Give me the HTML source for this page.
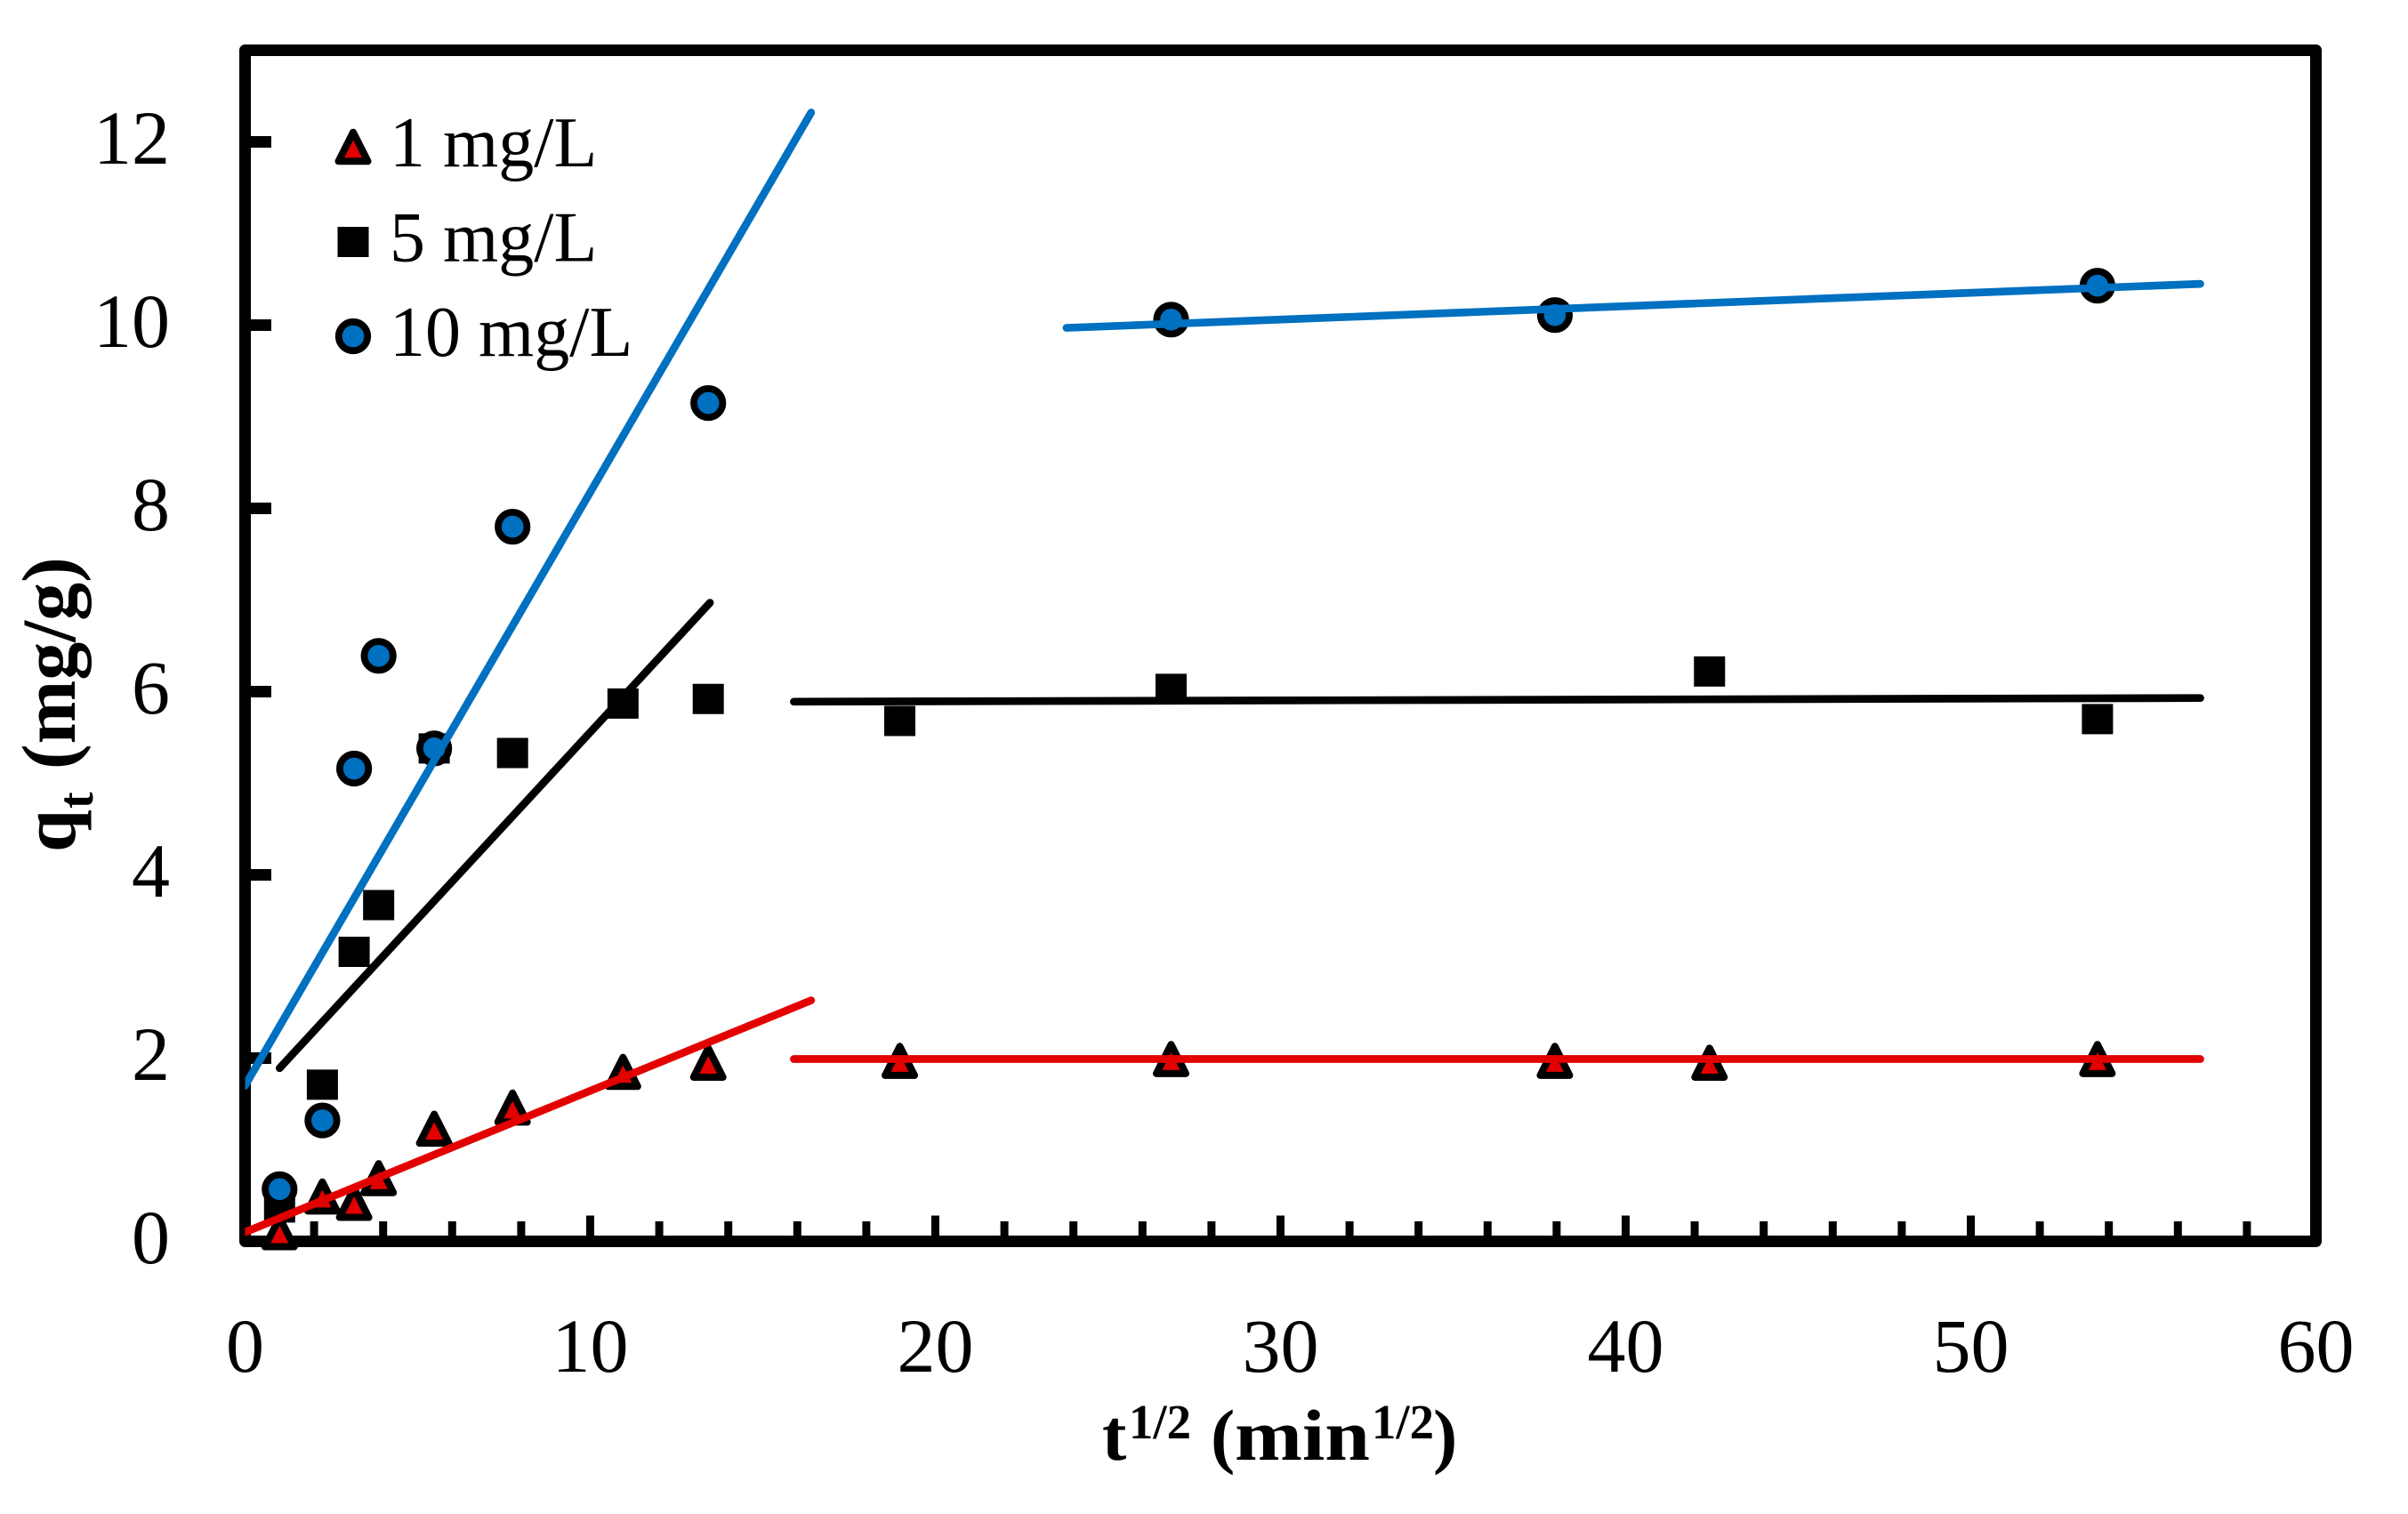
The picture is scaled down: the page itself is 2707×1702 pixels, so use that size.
<!DOCTYPE html>
<html lang="en">
<head>
<meta charset="utf-8">
<title>Intraparticle diffusion plot</title>
<style>
html,body{margin:0;padding:0;background:#fff;}
svg{display:block;}
text{font-family:"Liberation Serif",serif;fill:#000;}
</style>
</head>
<body>
<svg id="chart" xmlns="http://www.w3.org/2000/svg" width="2707" height="1702" viewBox="0 0 2707 1702">
  <rect x="0" y="0" width="2707" height="1702" fill="#fff"/>
  <defs><clipPath id="plot-clip"><rect x="275.5" y="0" width="2431" height="1702"/></clipPath></defs>
  <g id="axes"></g>
  <g id="marks"></g>
  <g id="fits" clip-path="url(#plot-clip)"></g>
  <g id="legend"></g>
  <text font-weight="bold" font-size="82">
    <tspan x="1239" y="1641">t</tspan><tspan x="1269" y="1617" font-size="55" textLength="70" lengthAdjust="spacingAndGlyphs">1/2</tspan>
    <tspan x="1361" y="1641">(</tspan><tspan x="1388" y="1641" textLength="152" lengthAdjust="spacingAndGlyphs">min</tspan><tspan x="1542" y="1617" font-size="55" textLength="70" lengthAdjust="spacingAndGlyphs">1/2</tspan><tspan x="1611" y="1641">)</tspan>
  </text>
  <text font-weight="bold" font-size="86" transform="translate(84,958) rotate(-90)">
    <tspan x="0" y="0">q</tspan><tspan x="49" y="20" font-size="56">t</tspan>
    <tspan x="93" y="0">(mg/g)</tspan>
  </text>
</svg>
<script>
// Axis ranges and ticks
const xMin = 0;
const xMax = 60;
const yMin = 0;
const yMax = 13;
const xMajorTicks = [0, 10, 20, 30, 40, 50, 60];
const xMinorTicks = [2, 4, 6, 8, 12, 14, 16, 18, 22, 24, 26, 28, 32, 34, 36, 38, 42, 44, 46, 48, 52, 54, 56, 58];
const yMajorTicks = [0, 2, 4, 6, 8, 10, 12];

// Measurements: t^(1/2) values and q_t per series
const xTriangle = [1, 2.24, 3.16, 3.87, 5.48, 7.75, 10.95, 13.42, 18.97, 26.83, 37.95, 42.43, 53.67];
const yTriangle = [0.10, 0.49, 0.42, 0.69, 1.23, 1.46, 1.85, 1.95, 1.97, 1.99, 1.97, 1.95, 1.99];
const xSquare = [1, 2.24, 3.16, 3.87, 5.48, 7.75, 10.95, 13.42, 18.97, 26.83, 42.43, 53.67];
const ySquare = [0.37, 1.71, 3.16, 3.67, 5.38, 5.33, 5.87, 5.92, 5.68, 6.03, 6.22, 5.70];
const xCircle = [1, 2.24, 3.16, 3.87, 5.48, 7.75, 13.42, 26.83, 37.95, 53.67];
const yCircle = [0.57, 1.32, 5.16, 6.39, 5.38, 7.80, 9.15, 10.06, 10.11, 10.43];

// Fit line endpoints
const redFit1X = [0, 16.4];
const redFit1Y = [0.10, 2.63];
const redFit2X = [15.9, 56.65];
const redFit2Y = [1.99, 1.99];
const blackFit1X = [1.0, 13.47];
const blackFit1Y = [1.89, 6.97];
const blackFit2X = [15.9, 56.65];
const blackFit2Y = [5.89, 5.93];
const blueFit1X = [0, 16.4];
const blueFit1Y = [1.70, 12.32];
const blueFit2X = [23.8, 56.65];
const blueFit2Y = [9.97, 10.45];

const legendLabels = ['1 mg/L', '5 mg/L', '10 mg/L'];

const NS = 'http://www.w3.org/2000/svg';
const RED = '#e30000';
const BLUE = '#0070c0';
const plotLeft = 275.5, plotRight = 2603.5, plotTop = 56.5, plotBottom = 1395.5;

function xScale(v) { return plotLeft + (v - xMin) / (xMax - xMin) * (plotRight - plotLeft); }
function yScale(v) { return plotBottom - (v - yMin) / (yMax - yMin) * (plotBottom - plotTop); }

function make(tag, parent, attrs) {
  const el = document.createElementNS(NS, tag);
  for (const k in attrs) el.setAttribute(k, attrs[k]);
  parent.appendChild(el);
  return el;
}

function drawTriangle(parent, cx, cy) {
  const d = 'M' + cx + ' ' + (cy - 16.3) + 'L' + (cx + 16.5) + ' ' + (cy + 16.3) + 'L' + (cx - 16.5) + ' ' + (cy + 16.3) + 'Z';
  return make('path', parent, { d: d, fill: RED, stroke: '#000', 'stroke-width': 8, 'stroke-linejoin': 'round' });
}
function drawSquare(parent, cx, cy) {
  return make('rect', parent, { x: cx - 17.5, y: cy - 17, width: 35, height: 34, fill: '#000' });
}
function drawCircle(parent, cx, cy) {
  return make('circle', parent, { cx: cx, cy: cy, r: 16.2, fill: BLUE, stroke: '#000', 'stroke-width': 7.8 });
}

const axes = document.getElementById('axes');
const marks = document.getElementById('marks');
const fits = document.getElementById('fits');
const legend = document.getElementById('legend');

// Frame
const frame = make('rect', axes, { x: plotLeft, y: plotTop, width: plotRight - plotLeft, height: plotBottom - plotTop, fill: 'none', stroke: '#000', 'stroke-width': 13, 'stroke-linejoin': 'round' });



// X ticks
xMajorTicks.forEach(function (v) {
  const tick = make('line', axes, { x1: xScale(v), x2: xScale(v), y1: plotBottom, y2: plotBottom - 29, stroke: '#000', 'stroke-width': 9 });
  
  
  const label = make('text', axes, { x: xScale(v), y: 1542, 'font-size': 86, 'text-anchor': 'middle' });
  
  
  label.textContent = String(v);
});
xMinorTicks.forEach(function (v) {
  const tick = make('line', axes, { x1: xScale(v), x2: xScale(v), y1: plotBottom, y2: plotBottom - 22.5, stroke: '#000', 'stroke-width': 9 });
  
  
});

// Y ticks
yMajorTicks.forEach(function (v) {
  const tick = make('line', axes, { x1: plotLeft, x2: plotLeft + 29.5, y1: yScale(v), y2: yScale(v), stroke: '#000', 'stroke-width': 13 });
  
  
  const label = make('text', axes, { x: 191, y: yScale(v) + 24.5, 'font-size': 86, 'text-anchor': 'end' });
  
  
  label.textContent = String(v);
});

// Markers
xTriangle.forEach(function (x, i) {
  const m = drawTriangle(marks, xScale(x), yScale(yTriangle[i]));
  
  
});
xSquare.forEach(function (x, i) {
  const m = drawSquare(marks, xScale(x), yScale(ySquare[i]));
  
  
});
xCircle.forEach(function (x, i) {
  const m = drawCircle(marks, xScale(x), yScale(yCircle[i]));
  
  
});

// Fit lines
function drawFit(xs, ys, color) {
  return make('line', fits, { x1: xScale(xs[0]), y1: yScale(ys[0]), x2: xScale(xs[1]), y2: yScale(ys[1]), stroke: color, 'stroke-width': 8.7, 'stroke-linecap': 'round' });
}
const fitBlack1 = drawFit(blackFit1X, blackFit1Y, '#000');


const fitBlack2 = drawFit(blackFit2X, blackFit2Y, '#000');


const fitBlue1 = drawFit(blueFit1X, blueFit1Y, BLUE);


const fitBlue2 = drawFit(blueFit2X, blueFit2Y, BLUE);


const fitRed1 = drawFit(redFit1X, redFit1Y, RED);


const fitRed2 = drawFit(redFit2X, redFit2Y, RED);



// Legend
const legendTriangle = drawTriangle(legend, 397, 165);


const legendSquare = drawSquare(legend, 397, 272);


const legendCircle = drawCircle(legend, 397, 378);


legendLabels.forEach(function (t, i) {
  const label = make('text', legend, { x: 438, y: 187 + i * 106.5, 'font-size': 80 });
  
  
  label.textContent = t;
});
</script>
</body>
</html>
